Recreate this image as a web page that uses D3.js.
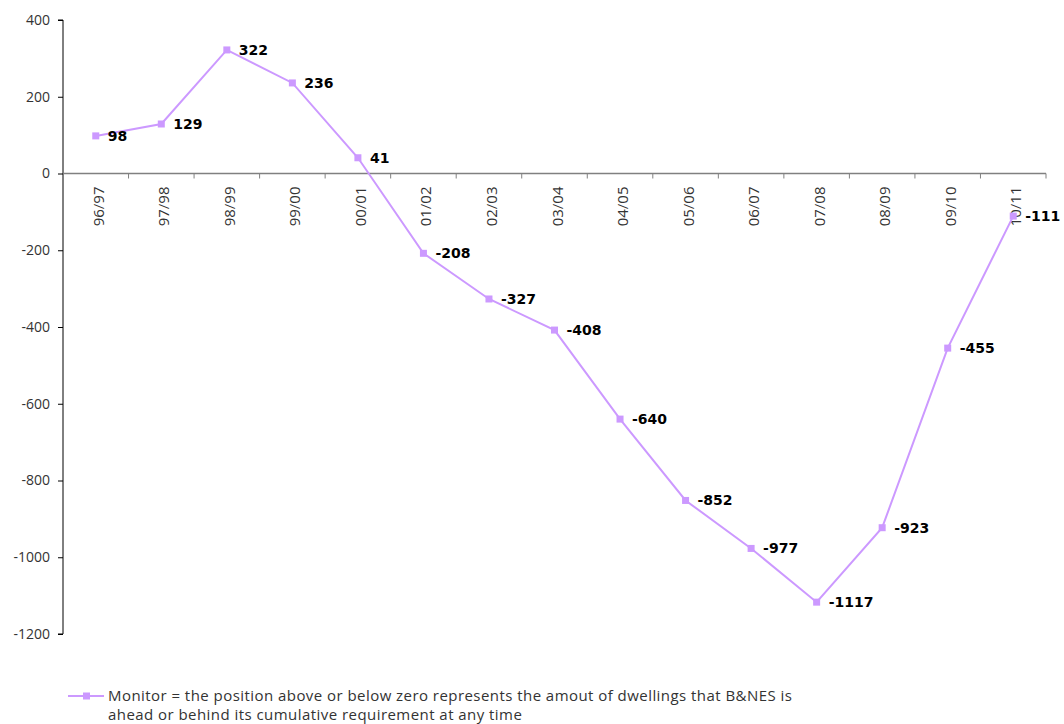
<!DOCTYPE html>
<html>
<head>
<meta charset="utf-8">
<script src="https://cdn.jsdelivr.net/npm/d3@7"></script>
<style>
  body { margin: 0; background: #fff; }
  svg { display: block; }
  text { font-family: "Open Sans", "DejaVu Sans", sans-serif; }
</style>
</head>
<body>
<svg id="chart" width="1064" height="724"></svg>
<script>
// Housing monitor: cumulative position against requirement, by year
const categories = ["96/97","97/98","98/99","99/00","00/01","01/02","02/03","03/04","04/05","05/06","06/07","07/08","08/09","09/10","10/11"];
const monitorValues = [98, 129, 322, 236, 41, -208, -327, -408, -640, -852, -977, -1117, -923, -455, -111];
const yTicks = [400, 200, 0, -200, -400, -600, -800, -1000, -1200];
const legendLines = [
  "Monitor = the position above or below zero represents the amout of dwellings that B&NES is",
  "ahead or behind its cumulative requirement at any time"
];

const color = "#CC99FF";
const svg = d3.select("#chart");

const plot = { left: 63, right: 1046, top: 20, bottom: 634 };

const x = d3.scaleBand().domain(categories).range([plot.left, plot.right]);
const y = d3.scaleLinear().domain([-1200, 400]).range([plot.bottom, plot.top]);

// Plain hyphen for negatives
const fmt = v => String(v);

// Y axis
const yAxis = svg.append("g")
  .attr("transform", `translate(${plot.left},0)`)
  .call(d3.axisLeft(y).tickValues(yTicks).tickSize(5).tickPadding(8).tickFormat(fmt));
yAxis.select(".domain").attr("stroke", "#000").attr("d", `M-5,${plot.top}H0V${plot.bottom}H-5`);
yAxis.selectAll(".tick line").attr("stroke", "#000");
yAxis.selectAll(".tick text")
  .attr("font-size", 14).attr("fill", "#333")
  .style("font-family", "'Open Sans', sans-serif");

// X axis at zero with ticks between categories
const y0 = y(0);
const xg = svg.append("g");
xg.append("line")
  .attr("x1", plot.left).attr("x2", plot.right)
  .attr("y1", y0).attr("y2", y0)
  .attr("stroke", "#808080").attr("stroke-width", 1.5);
const boundaries = categories.map(c => x(c) + x.bandwidth());
xg.selectAll("line.tk").data(boundaries).join("line")
  .attr("class", "tk")
  .attr("x1", d => d).attr("x2", d => d)
  .attr("y1", y0).attr("y2", y0 + 5)
  .attr("stroke", "#808080").attr("stroke-width", 1);
xg.selectAll("text").data(categories).join("text")
  .attr("transform", d => `translate(${x(d) + x.bandwidth() / 2 + 8},${y0 + 13}) rotate(-90)`)
  .attr("text-anchor", "end")
  .attr("font-size", 15)
  .attr("fill", "#333")
  .text(d => d);

// Series
const pts = categories.map((c, i) => ({ c, v: monitorValues[i] }));
const line = d3.line().x(d => x(d.c) + x.bandwidth() / 2).y(d => y(d.v));
svg.append("path")
  .datum(pts)
  .attr("d", line)
  .attr("fill", "none")
  .attr("stroke", color)
  .attr("stroke-width", 2);

svg.selectAll("rect.mk").data(pts).join("rect")
  .attr("class", "mk")
  .attr("x", d => x(d.c) + x.bandwidth() / 2 - 3.5)
  .attr("y", d => y(d.v) - 3.5)
  .attr("width", 7).attr("height", 7)
  .attr("fill", color);

svg.selectAll("text.lbl").data(pts).join("text")
  .attr("class", "lbl")
  .attr("x", d => x(d.c) + x.bandwidth() / 2 + 12)
  .attr("y", d => y(d.v) + 5)
  .attr("font-size", 14)
  .attr("font-weight", "bold")
  .attr("fill", "#000")
  .style("font-family", "'DejaVu Sans', sans-serif")
  .text(d => fmt(d.v));

// Legend
const lg = svg.append("g");
lg.append("line")
  .attr("x1", 68).attr("x2", 104).attr("y1", 696).attr("y2", 696)
  .attr("stroke", color).attr("stroke-width", 2);
lg.append("rect")
  .attr("x", 83).attr("y", 692.5).attr("width", 7).attr("height", 7)
  .attr("fill", color);
lg.selectAll("text").data(legendLines).join("text")
  .attr("x", 108)
  .attr("y", (d, i) => 701 + i * 19)
  .attr("font-size", 15)
  .attr("letter-spacing", 0.45)
  .attr("fill", "#333")
  .text(d => d);
</script>
</body>
</html>
